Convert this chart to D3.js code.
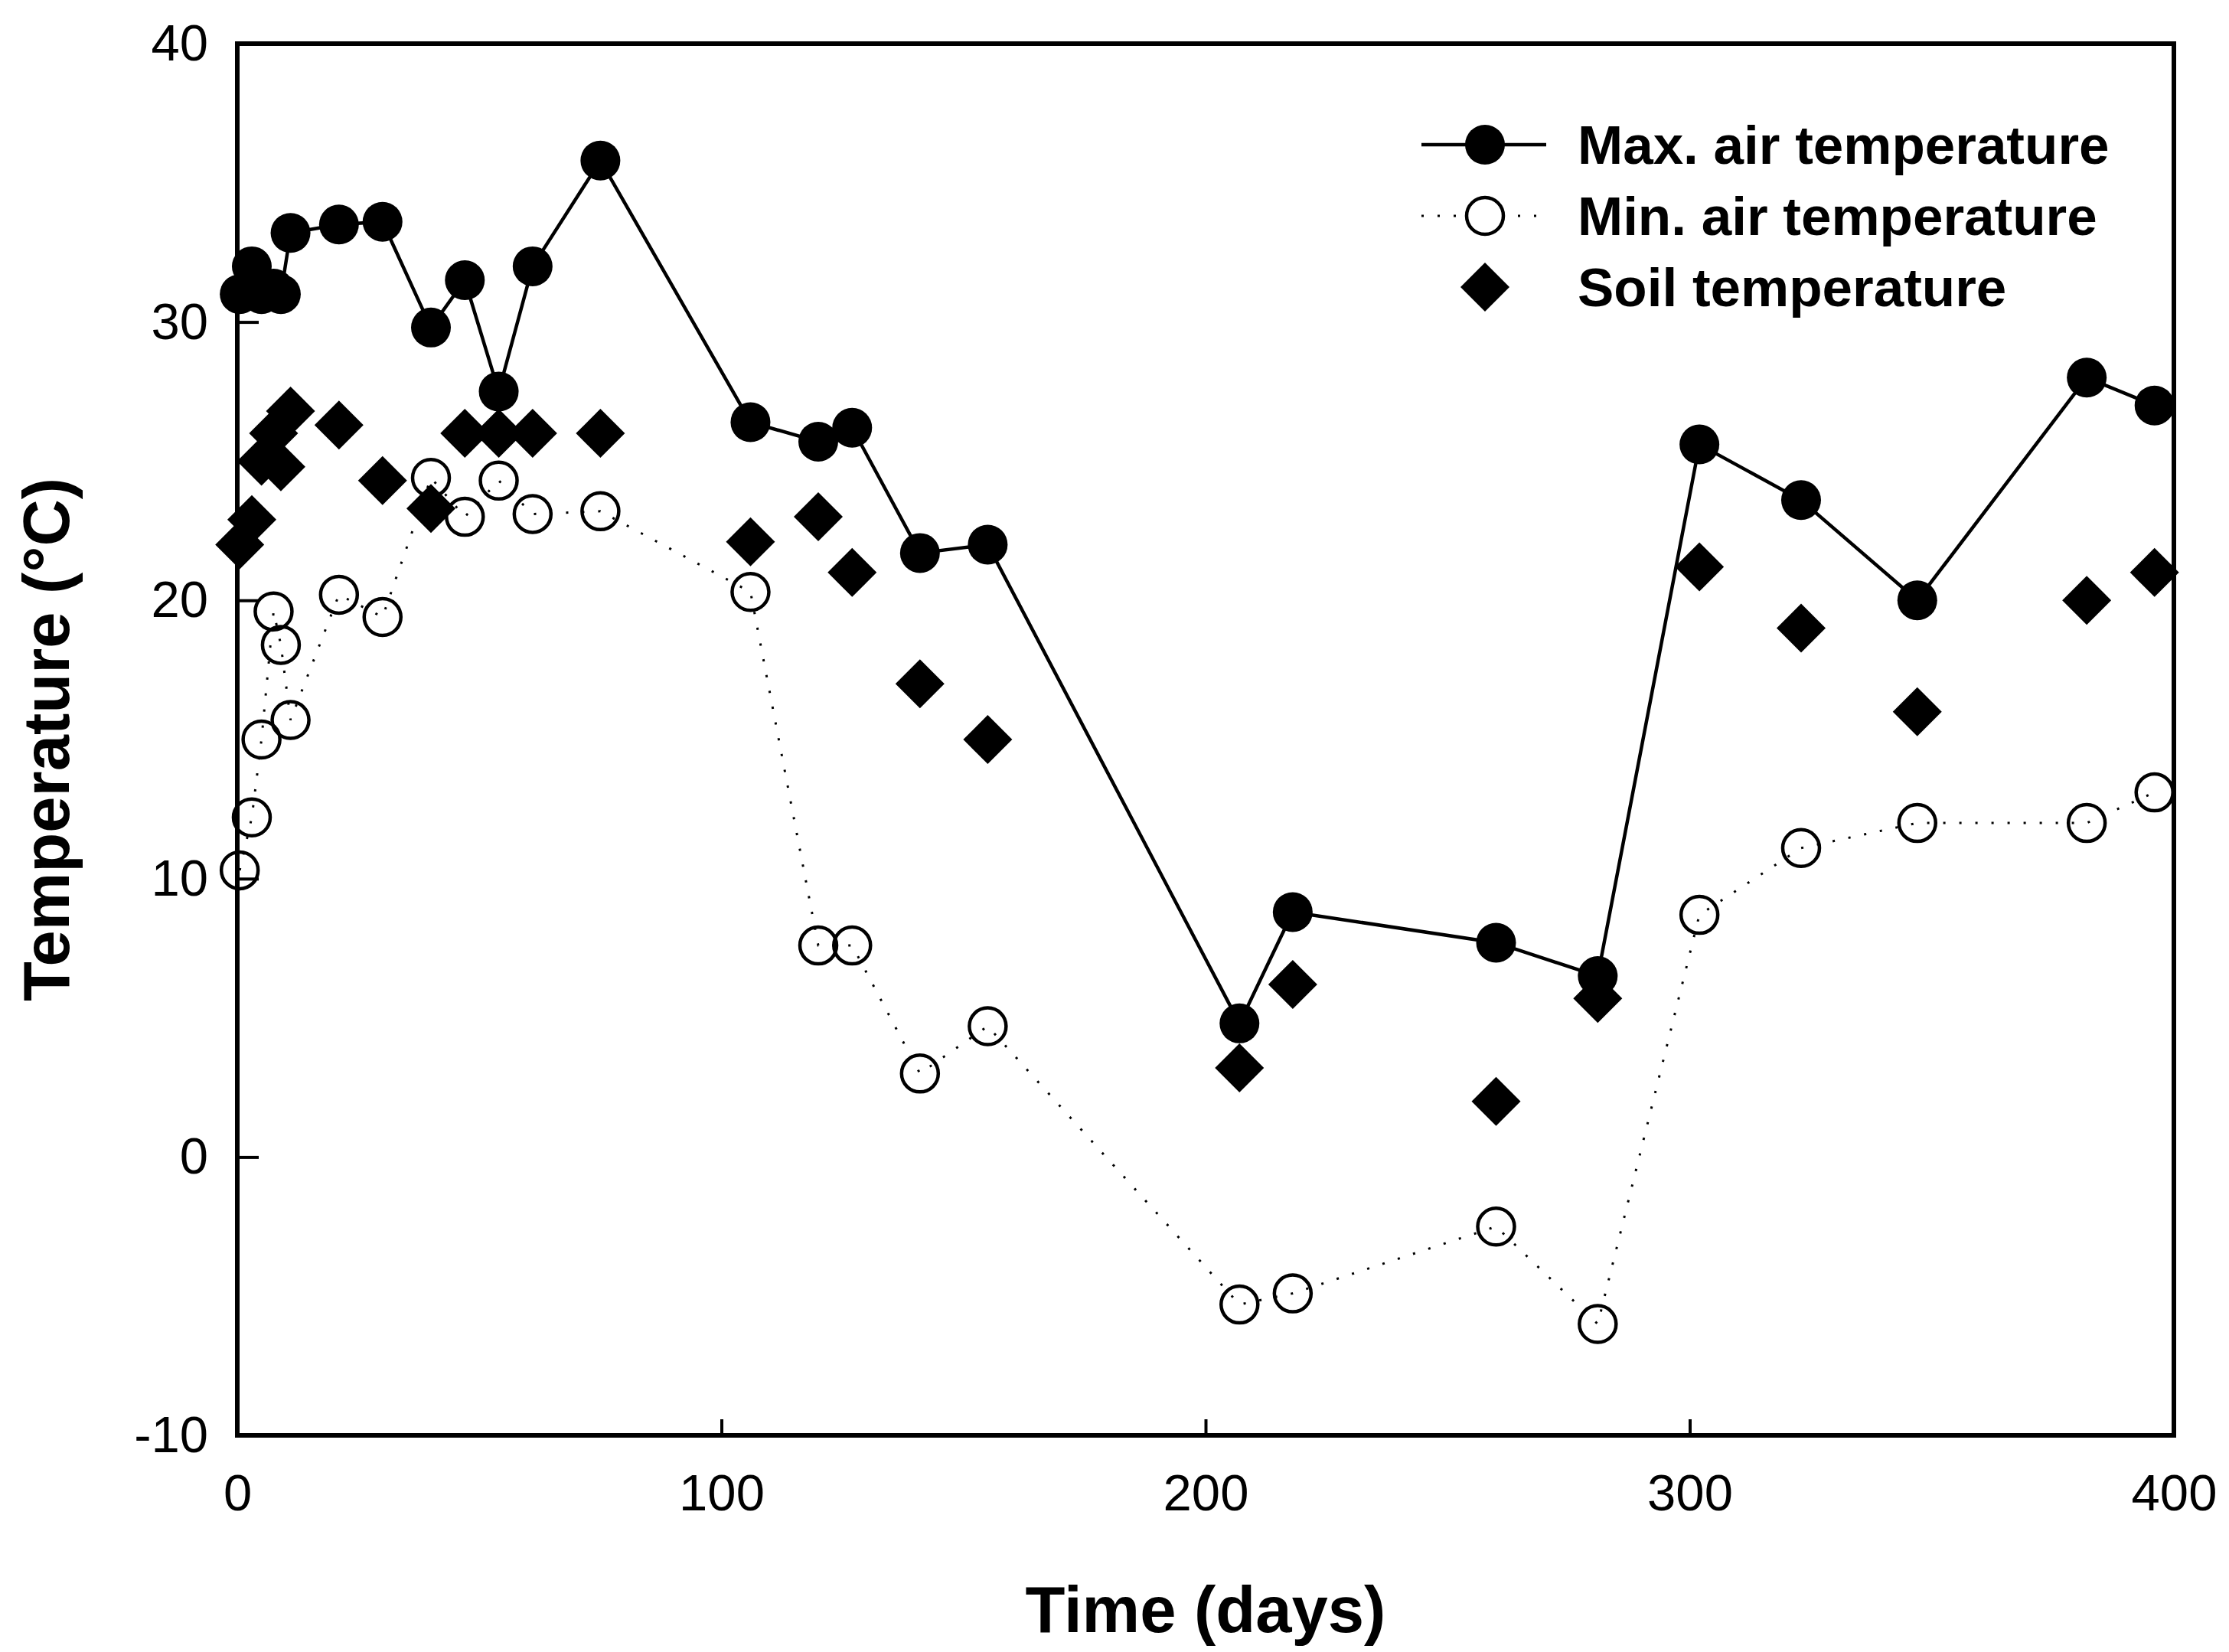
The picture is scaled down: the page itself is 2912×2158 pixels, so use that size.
<!DOCTYPE html>
<html><head><meta charset="utf-8">
<script src="https://cdn.jsdelivr.net/npm/d3@7"></script>
<style>body{margin:0;background:#fff;} svg{display:block;}</style>
</head><body>
<script>
// ---- data ----
const days   = [0.5, 3, 5, 7.5, 9, 11, 21, 30, 40, 47, 54, 61, 75, 106, 120, 127, 141, 155, 207, 218, 260, 281, 302, 323, 347, 382, 396];
const maxAir = [31.0, 32.0, 31.0, 31.2, 31.0, 33.2, 33.5, 33.6, 29.8, 31.5, 27.5, 32.0, 35.8, 26.4, 25.7, 26.2, 21.7, 22.0, 4.8, 8.8, 7.7, 6.5, 25.6, 23.6, 20.0, 28.0, 27.0];
const minAir = [10.3, 12.2, 15.0, 19.6, 18.4, 15.7, 20.2, 19.4, 24.4, 23.0, 24.3, 23.1, 23.2, 20.3, 7.6, 7.6, 3.0, 4.7, -5.3, -4.9, -2.5, -6.0, 8.7, 11.1, 12.0, 12.0, 13.1];
const soil   = [22.0, 22.9, 25.0, 26.0, 24.8, 26.8, 26.3, 24.3, 23.3, 26.0, 26.0, 26.0, 26.0, 22.1, 23.0, 21.0, 17.0, 15.0, 3.2, 6.2, 2.0, 5.7, 21.2, 19.0, 16.0, 20.0, 21.0];
const xTicks = [0, 100, 200, 300, 400];
const yTicks = [-10, 0, 10, 20, 30, 40];
const seriesNames = ["Max. air temperature", "Min. air temperature", "Soil temperature"];
const xTitle = "Time (days)";
const yTitle = "Temperature (°C)";

// ---- layout ----
const W = 2912, H = 2158;
const L = 310, R = 2840, T = 57, B = 1875;
const FONT = "'Liberation Sans', Arial, Helvetica, sans-serif";

const svg = d3.select("body").append("svg").attr("width", W).attr("height", H)
  .style("font-family", FONT);
svg.append("rect").attr("width", W).attr("height", H).attr("fill", "#fff");

const x = d3.scaleLinear().domain([0, 400]).range([L, R]);
const y = d3.scaleLinear().domain([-10, 40]).range([B, T]);

// axes (ticks inward)
const gx = svg.append("g").attr("transform", `translate(0,${B})`)
  .call(d3.axisBottom(x).tickValues(xTicks).tickSize(-21).tickPadding(71).tickFormat(d3.format("d")));
const gy = svg.append("g").attr("transform", `translate(${L},0)`)
  .call(d3.axisLeft(y).tickValues(yTicks).tickSize(-28).tickPadding(38).tickFormat(d => d < 0 ? "-" + Math.abs(d) : d));
[gx, gy].forEach(g => {
  g.select(".domain").remove();
  g.selectAll(".tick line").attr("stroke", "#000").attr("stroke-width", 4);
  g.selectAll(".tick text").attr("fill", "#000").style("font-size", "67px").style("font-family", FONT);
});
gx.selectAll(".tick text").attr("dy", "0").attr("y", 98);

// frame
svg.append("rect").attr("x", L).attr("y", T).attr("width", R - L).attr("height", B - T)
  .attr("fill", "none").attr("stroke", "#000").attr("stroke-width", 6);

const pts = (arr) => days.map((d, i) => [d, arr[i]]);
const line = d3.line().x(d => x(d[0])).y(d => y(d[1]));

// lines
svg.append("path").datum(pts(minAir)).attr("d", line).attr("fill", "none")
  .attr("stroke", "#000").attr("stroke-width", 3).attr("stroke-dasharray", "3,18");
svg.append("path").datum(pts(maxAir)).attr("d", line).attr("fill", "none")
  .attr("stroke", "#000").attr("stroke-width", 4.5);

// markers
svg.append("g").selectAll("circle").data(pts(maxAir)).join("circle")
  .attr("cx", d => x(d[0])).attr("cy", d => y(d[1])).attr("r", 26).attr("fill", "#000");
svg.append("g").selectAll("circle").data(pts(minAir)).join("circle")
  .attr("cx", d => x(d[0])).attr("cy", d => y(d[1])).attr("r", 24).attr("fill", "none")
  .attr("stroke", "#000").attr("stroke-width", 4.5);
const diamond = (cx, cy, s) => `M${cx},${cy - s}L${cx + s},${cy}L${cx},${cy + s}L${cx - s},${cy}Z`;
svg.append("g").selectAll("path").data(pts(soil)).join("path")
  .attr("d", d => diamond(x(d[0]), y(d[1]), 32)).attr("fill", "#000");

// legend
const legY = [189, 282, 375];
const lg = svg.append("g");
// max
lg.append("line").attr("x1", 1857).attr("x2", 2020).attr("y1", legY[0]).attr("y2", legY[0])
  .attr("stroke", "#000").attr("stroke-width", 4.5);
lg.append("circle").attr("cx", 1940).attr("cy", legY[0]).attr("r", 26).attr("fill", "#000");
// min
lg.append("line").attr("x1", 1857).attr("x2", 2020).attr("y1", legY[1]).attr("y2", legY[1])
  .attr("stroke", "#000").attr("stroke-width", 3).attr("stroke-dasharray", "3,18");
lg.append("circle").attr("cx", 1940).attr("cy", legY[1]).attr("r", 24).attr("fill", "#fff")
  .attr("stroke", "#000").attr("stroke-width", 4.5);
// soil
lg.append("path").attr("d", diamond(1940, legY[2], 32)).attr("fill", "#000");
lg.selectAll("text").data(seriesNames).join("text")
  .attr("x", 2061).attr("y", (d, i) => legY[i] + 25)
  .style("font-size", "71px").style("font-weight", "bold").attr("fill", "#000")
  .text(d => d);

// axis titles
svg.append("text").attr("x", (L + R) / 2).attr("y", 2132).attr("text-anchor", "middle")
  .style("font-size", "85px").style("font-weight", "bold").text(xTitle);
svg.append("text").attr("transform", `translate(90,${(T + B) / 2}) rotate(-90)`)
  .attr("text-anchor", "middle")
  .style("font-size", "85px").style("font-weight", "bold").text(yTitle);
</script>
</body></html>
